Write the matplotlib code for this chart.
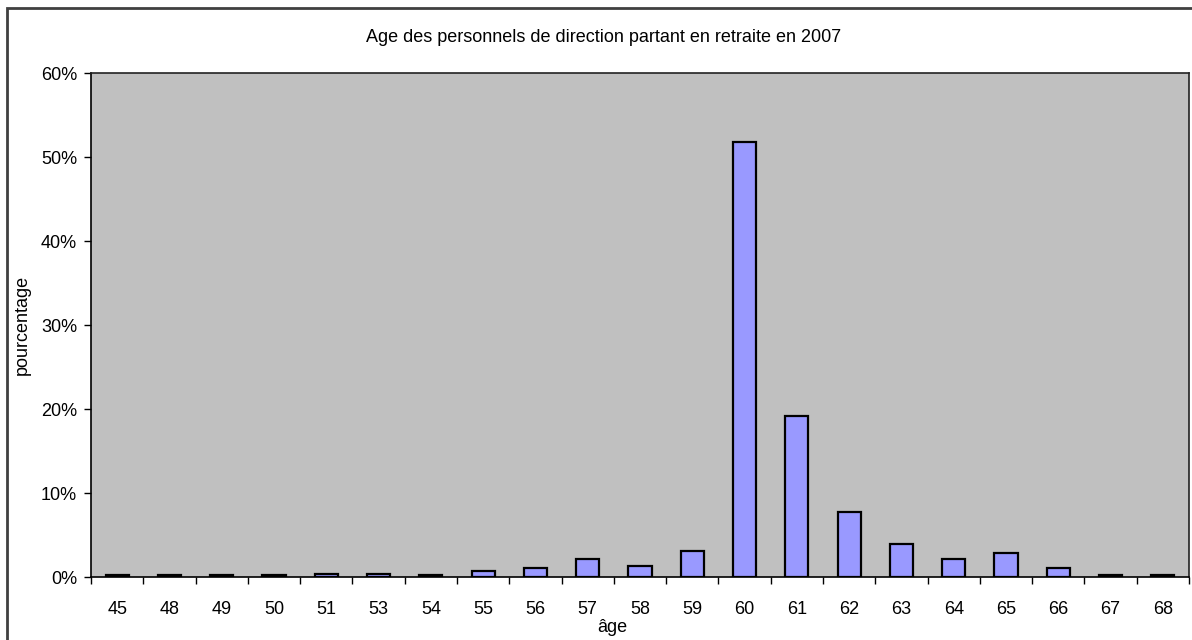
import matplotlib.pyplot as plt
from matplotlib.patches import Rectangle
from matplotlib.ticker import FuncFormatter, FixedLocator

plt.rcParams['font.family'] = ['Liberation Sans', 'DejaVu Sans']

ages = ['45', '48', '49', '50', '51', '53', '54', '55', '56', '57', '58',
        '59', '60', '61', '62', '63', '64', '65', '66', '67', '68']
percent = [0.18, 0.18, 0.18, 0.18, 0.35, 0.35, 0.18, 0.7, 1.1, 2.1, 1.3,
           3.1, 51.8, 19.2, 7.7, 3.9, 2.1, 2.9, 1.1, 0.18, 0.18]

fig = plt.figure(figsize=(11.92, 6.4), dpi=100)
ax = fig.add_axes([91 / 1192, 1 - 577 / 640, (1189 - 91) / 1192, (577 - 73) / 640])
ax.set_facecolor('#c0c0c0')

x = list(range(len(ages)))
ax.bar(x, percent, width=0.44, color='#9999ff', edgecolor='black', linewidth=1.6)

fs = 13
ax.set_xlim(-0.5, len(ages) - 0.5)
ax.set_ylim(0, 60)
ax.set_yticks(range(0, 61, 10))
ax.yaxis.set_major_formatter(FuncFormatter(lambda v, p: f'{v:.0f}%'))
ax.set_xticks(x)
ax.set_xticklabels(ages)
ax.xaxis.set_minor_locator(FixedLocator([i - 0.5 for i in range(len(ages) + 1)]))
ax.tick_params(axis='x', which='major', length=0, pad=17, labelsize=fs)
ax.tick_params(axis='x', which='minor', length=5, width=1, direction='out')
ax.tick_params(axis='y', length=5, width=1, direction='out', labelsize=fs, pad=5)

for s in ['left', 'bottom']:
    ax.spines[s].set_linewidth(1.2)
    ax.spines[s].set_color('black')
for s in ['top', 'right']:
    ax.spines[s].set_linewidth(1.2)
    ax.spines[s].set_color('#222222')

fig.text(604 / 1192, 1 - 38 / 640, 'Age des personnels de direction partant en retraite en 2007',
         ha='center', va='center', fontsize=fs)
fig.text(612 / 1192, 1 - 628 / 640, 'âge', ha='center', va='center', fontsize=fs)
fig.text(22 / 1192, 1 - 325 / 640, 'pourcentage', ha='center', va='center',
         rotation=90, fontsize=fs)

fig.patches.append(Rectangle((7.5 / 1192, -0.1), 1.2, 1 - 7.5 / 640 + 0.1,
                             transform=fig.transFigure, fill=False,
                             edgecolor='#404040', linewidth=2))

fig.savefig('out.png', dpi=100)
